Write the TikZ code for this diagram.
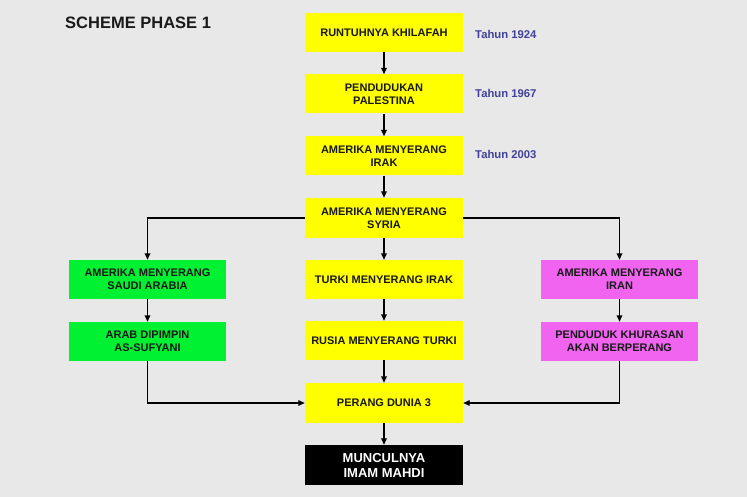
\documentclass[tikz,border=0pt]{standalone}
\usepackage{fontspec}
\setmainfont{Liberation Sans}
\usetikzlibrary{arrows.meta}
\definecolor{bgc}{RGB}{232,232,232}
\definecolor{yel}{RGB}{255,255,0}
\definecolor{grn}{RGB}{0,240,50}
\definecolor{mag}{RGB}{240,100,240}
\definecolor{tahunc}{RGB}{65,65,155}
\tikzset{
  box/.style={minimum width=158pt, minimum height=39pt, inner sep=0pt, align=center,
    font=\fontsize{11}{13}\selectfont\bfseries, text=black!90},
  ybox/.style={box, fill=yel},
  gbox/.style={box, fill=grn},
  mbox/.style={box, fill=mag},
  kbox/.style={box, fill=black, text=white, minimum height=40pt, font=\fontsize{13}{15}\selectfont\bfseries},
  tahun/.style={anchor=west, inner sep=0pt, text=tahunc, font=\fontsize{11.3}{13}\selectfont\bfseries},
  conn/.style={line width=1.7pt, -{Triangle[length=6.5pt,width=5.5pt]}}
}
\begin{document}
\begin{tikzpicture}[x=1pt,y=-1pt]
\fill[bgc] (0,0) rectangle (747,497);
\useasboundingbox (0,0) rectangle (747,497);
\node[anchor=west, inner sep=0pt, font=\fontsize{16.5}{18}\selectfont\bfseries, text=black!90] (title) at (65,23) {SCHEME PHASE 1};
\node[ybox] (b1) at (384,32.5) {RUNTUHNYA KHILAFAH};
\node[ybox] (b2) at (384,94) {PENDUDUKAN\\PALESTINA};
\node[ybox] (b3) at (384,156) {AMERIKA MENYERANG\\IRAK};
\node[ybox, minimum height=40pt] (b4) at (384,218) {AMERIKA MENYERANG\\SYRIA};
\node[ybox] (b5) at (384,279.5) {TURKI MENYERANG IRAK};
\node[ybox] (b6) at (384,340.5) {RUSIA MENYERANG TURKI};
\node[ybox, minimum height=40pt] (b7) at (384,403) {PERANG DUNIA 3};
\node[kbox] (b8) at (384,465) {MUNCULNYA\\IMAM MAHDI};
\node[gbox, minimum width=157pt] (g1) at (147.5,279.5) {AMERIKA MENYERANG\\SAUDI ARABIA};
\node[gbox, minimum width=157pt] (g2) at (147.5,341.5) {ARAB DIPIMPIN\\AS-SUFYANI};
\node[mbox, minimum width=157pt] (m1) at (619.5,279.5) {AMERIKA MENYERANG\\IRAN};
\node[mbox, minimum width=157pt] (m2) at (619.5,341.5) {PENDUDUK KHURASAN\\AKAN BERPERANG};
\node[tahun] (t1) at (475,34) {Tahun 1924};
\node[tahun] (t2) at (475,93) {Tahun 1967};
\node[tahun] (t3) at (475,154) {Tahun 2003};
\draw[conn] (b1) -- (b2);
\draw[conn] (b2) -- (b3);
\draw[conn] (b3) -- (b4);
\draw[conn] (b4) -- (b5);
\draw[conn] (b5) -- (b6);
\draw[conn] (b6) -- (b7);
\draw[conn] (b7) -- (b8);
\draw[conn] (b4.west) -| (g1.north);
\draw[conn] (b4.east) -| (m1.north);
\draw[conn] (g1) -- (g2);
\draw[conn] (m1) -- (m2);
\draw[conn] (g2.south) |- (b7.west);
\draw[conn] (m2.south) |- (b7.east);
\end{tikzpicture}
\end{document}
